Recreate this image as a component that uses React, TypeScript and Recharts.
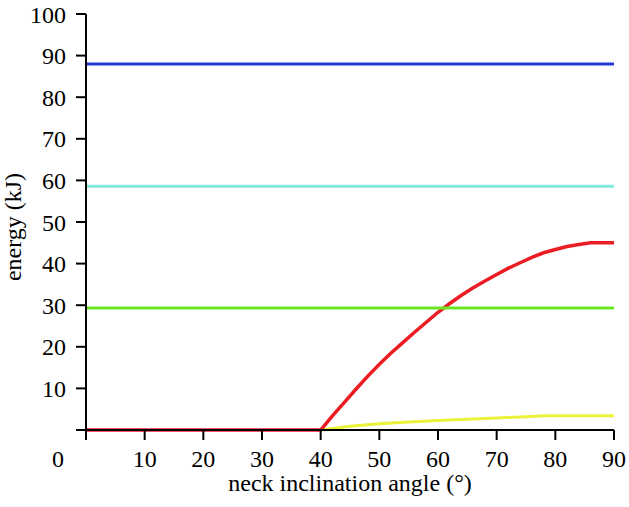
import { LineChart, Line, XAxis, YAxis, ReferenceLine } from "recharts";

// horizontal reference energies (kJ)
const levelBlue = 88;
const levelCyan = 58.6;
const levelGreen = 29.3;

const xTicks = [0, 10, 20, 30, 40, 50, 60, 70, 80, 90];
const yTicks = [0, 10, 20, 30, 40, 50, 60, 70, 80, 90, 100];

// red curve: neck inclination angle vs energy
const redAngles = [0, 40, 42, 44, 46, 48, 50, 52, 54, 56, 58, 60, 62, 64, 66, 68, 70, 72, 74, 76, 78, 80, 82, 84, 86, 88, 90];
const redEnergy = [0, 0, 3.4, 6.6, 9.8, 12.9, 15.8, 18.5, 21.0, 23.5, 25.9, 28.3, 30.4, 32.4, 34.2, 35.8, 37.4, 38.9, 40.2, 41.5, 42.6, 43.4, 44.1, 44.6, 45.0, 45.0, 45.0];

// yellow curve
const yellowAngles = [40, 45, 50, 55, 60, 65, 70, 75, 78, 80, 85, 90];
const yellowEnergy = [0, 0.9, 1.5, 1.9, 2.3, 2.6, 2.9, 3.2, 3.4, 3.4, 3.4, 3.4];

const redData = redAngles.map((a, i) => ({ angle: a, energy: redEnergy[i] }));
const yellowData = yellowAngles.map((a, i) => ({ angle: a, energy: yellowEnergy[i] }));

const FONT = "'Liberation Serif', 'Times New Roman', serif";
const FS = 24;

const XTick = (props: any) => {
  const { x, y, payload } = props;
  const shift = payload.value === 0 ? -28 : 0;
  return (
    <text x={x + shift} y={y} dy="0.71em" textAnchor="middle" fill="#000" fontSize={FS} fontFamily={FONT}>
      {payload.value}
    </text>
  );
};

const YTick = (props: any) => {
  const { x, y, payload } = props;
  if (payload.value === 0) return null;
  return (
    <text x={x} y={y} dy="0.355em" textAnchor="end" fill="#000" fontSize={FS} fontFamily={FONT}>
      {payload.value}
    </text>
  );
};

export default function App() {
  return (
    <div style={{ position: "absolute", left: 0, top: 0, background: "#fff" }}>
      <LineChart
        width={629}
        height={507}
        margin={{ top: 14, right: 15, bottom: 0, left: 0 }}
      >
        <XAxis
          type="number"
          dataKey="angle"
          domain={[0, 90]}
          ticks={xTicks}
          allowDuplicatedCategory={false}
          height={77}
          tickSize={10}
          tickMargin={10}
          stroke="#000"
          strokeWidth={2}
          tick={<XTick />}
          label={{
            content: (p: any) => (
              <text
                x={p.viewBox.x + p.viewBox.width / 2}
                y={491}
                textAnchor="middle"
                fill="#000"
                fontSize={FS}
                fontFamily={FONT}
              >
                neck inclination angle (°)
              </text>
            ),
          }}
        />
        <YAxis
          type="number"
          domain={[0, 100]}
          ticks={yTicks}
          width={86}
          tickSize={10}
          tickMargin={10}
          stroke="#000"
          strokeWidth={2}
          tick={<YTick />}
          label={{
            content: () => (
              <text
                x={21}
                y={227}
                transform="rotate(-90 21 227)"
                textAnchor="middle"
                fill="#000"
                fontSize={FS}
                fontFamily={FONT}
              >
                energy (kJ)
              </text>
            ),
          }}
        />
        <ReferenceLine y={levelBlue} stroke="#2438d8" strokeWidth={3} />
        <ReferenceLine y={levelCyan} stroke="#80eadf" strokeWidth={3} />
        <Line
          data={yellowData}
          dataKey="energy"
          type="linear"
          stroke="#eaf23a"
          strokeWidth={3}
          dot={false}
          isAnimationActive={false}
        />
        <Line
          data={redData}
          dataKey="energy"
          type="linear"
          stroke="#ec1c24"
          strokeWidth={3.5}
          dot={false}
          isAnimationActive={false}
        />
        <ReferenceLine y={levelGreen} stroke="#6ae620" strokeWidth={3} />
      </LineChart>
    </div>
  );
}
